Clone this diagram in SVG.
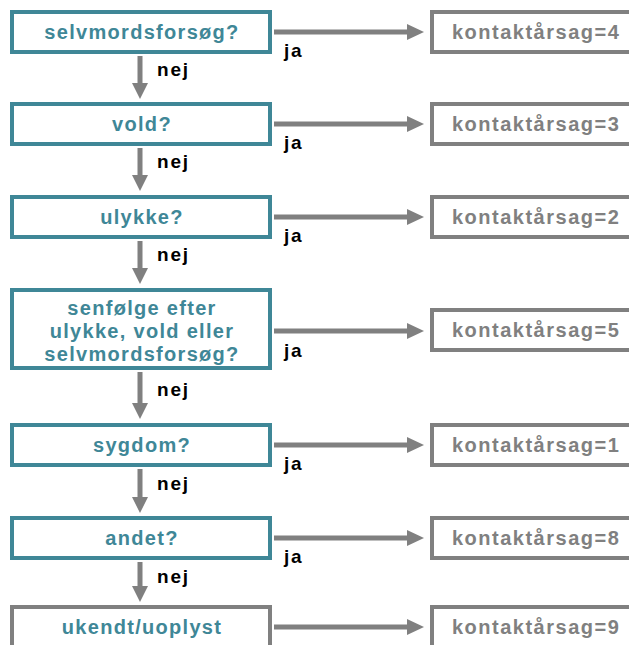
<svg xmlns="http://www.w3.org/2000/svg" width="629" height="645" viewBox="0 0 629 645">
<style>
.q{fill:#fff;stroke:#3f8797;stroke-width:4}
.r{fill:#fff;stroke:#808080;stroke-width:4}
.qt{font-family:"Liberation Sans",Arial,sans-serif;font-weight:bold;font-size:20px;letter-spacing:1.3px;fill:#3f8797;text-anchor:middle}
.rt{font-family:"Liberation Sans",Arial,sans-serif;font-weight:bold;font-size:20px;letter-spacing:1.5px;fill:#808080}
.lb{font-family:"Liberation Sans",Arial,sans-serif;font-weight:bold;font-size:19px;letter-spacing:1.8px;fill:#000}
.ln{stroke:#808080;stroke-width:5;fill:none}
.hd{fill:#808080}
</style>
<rect width="629" height="645" fill="#fff"/>
<g id="q1"><rect class="q" x="12" y="12" width="258" height="40"/><text class="qt" x="142" y="39">selvmordsforsøg?</text></g>
<g id="q2"><rect class="q" x="12" y="104" width="258" height="40"/><text class="qt" x="142" y="131">vold?</text></g>
<g id="q3"><rect class="q" x="12" y="197" width="258" height="40"/><text class="qt" x="142" y="224">ulykke?</text></g>
<g id="q4"><rect class="q" x="12" y="290" width="258" height="78"/><text class="qt" x="142" y="315">senfølge efter</text><text class="qt" x="142" y="338">ulykke, vold eller</text><text class="qt" x="142" y="361">selvmordsforsøg?</text></g>
<g id="q5"><rect class="q" x="12" y="425" width="258" height="40"/><text class="qt" x="142" y="452">sygdom?</text></g>
<g id="q6"><rect class="q" x="12" y="518" width="258" height="40"/><text class="qt" x="142" y="545">andet?</text></g>
<g id="q7"><rect class="r" x="12" y="607" width="258" height="44"/><text class="qt" x="142" y="634">ukendt/uoplyst</text></g>
<g id="r4"><rect class="r" x="432" y="12" width="205" height="40"/><text class="rt" x="452" y="39">kontaktårsag=4</text></g>
<g id="r3"><rect class="r" x="432" y="104" width="205" height="40"/><text class="rt" x="452" y="131">kontaktårsag=3</text></g>
<g id="r2"><rect class="r" x="432" y="197" width="205" height="40"/><text class="rt" x="452" y="224">kontaktårsag=2</text></g>
<g id="r5"><rect class="r" x="432" y="310" width="205" height="40"/><text class="rt" x="452" y="337">kontaktårsag=5</text></g>
<g id="r1"><rect class="r" x="432" y="425" width="205" height="40"/><text class="rt" x="452" y="452">kontaktårsag=1</text></g>
<g id="r8"><rect class="r" x="432" y="518" width="205" height="40"/><text class="rt" x="452" y="545">kontaktårsag=8</text></g>
<g id="r9"><rect class="r" x="432" y="607" width="205" height="44"/><text class="rt" x="452" y="634">kontaktårsag=9</text></g>
<g id="connectors">
<path class="ln" d="M274 32H409M274 124H409M274 217H409M274 331H409M274 445H409M274 538H409M274 627H409"/>
<path class="hd" d="M407 24L424 32L407 40ZM407 116L424 124L407 132ZM407 209L424 217L407 225ZM407 323L424 331L407 339ZM407 437L424 445L407 453ZM407 530L424 538L407 546ZM407 619L424 627L407 635Z"/>
<path class="ln" d="M140 56V84M140 148V176M140 241V269M140 372V407M140 469V500M140 562V589"/>
<path class="hd" d="M132 83L140 99L148 83ZM132 175L140 191L148 175ZM132 268L140 284L148 268ZM132 403L140 419L148 403ZM132 497L140 513L148 497ZM132 586L140 602L148 586Z"/>
<text class="lb" x="284" y="57">ja</text>
<text class="lb" x="284" y="149">ja</text>
<text class="lb" x="284" y="242">ja</text>
<text class="lb" x="284" y="357">ja</text>
<text class="lb" x="284" y="470">ja</text>
<text class="lb" x="284" y="563">ja</text>
<text class="lb" x="157" y="76">nej</text>
<text class="lb" x="157" y="168">nej</text>
<text class="lb" x="157" y="261">nej</text>
<text class="lb" x="157" y="396">nej</text>
<text class="lb" x="157" y="490">nej</text>
<text class="lb" x="157" y="583">nej</text>
</g>
</svg>
